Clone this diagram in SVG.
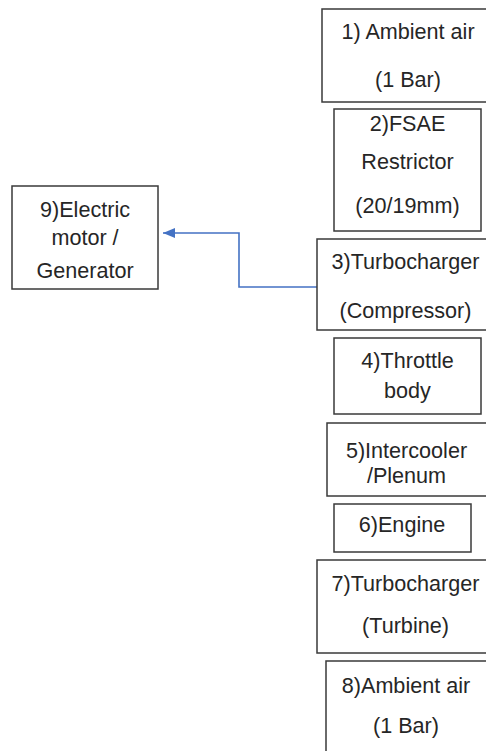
<svg xmlns="http://www.w3.org/2000/svg" width="486" height="751" viewBox="0 0 486 751">
<defs>
<style>
.box{fill:#fff;stroke:#3a3a3a;stroke-width:1.5}
.t{font-family:"Liberation Sans",Arial,sans-serif;font-size:21.6px;fill:#262626;text-anchor:middle}
.conn{fill:none;stroke:#4472C4;stroke-width:1.6}
</style>
<marker id="ah" viewBox="0 0 12 10" refX="12" refY="5" markerWidth="12" markerHeight="10" markerUnits="userSpaceOnUse" orient="auto">
<path d="M0,0 L12,5 L0,10 z" fill="#4472C4"/>
</marker>
</defs>
<rect width="486" height="751" fill="#fff"/>
<g id="connectors">
<path class="conn" d="M317,287 H239 V233 H163" marker-end="url(#ah)"/>
</g>
<g id="n1">
<rect class="box" x="322" y="9" width="180" height="93"/>
<text class="t" x="408" y="39">1) Ambient air</text>
<text class="t" x="408" y="87">(1 Bar)</text>
</g>
<g id="n2">
<rect class="box" x="334" y="109" width="147" height="122"/>
<text class="t" x="407.5" y="131">2)FSAE</text>
<text class="t" x="407.5" y="169">Restrictor</text>
<text class="t" x="407.5" y="213">(20/19mm)</text>
</g>
<g id="n3">
<rect class="box" x="317" y="239" width="190" height="91"/>
<text class="t" x="405.5" y="269">3)Turbocharger</text>
<text class="t" x="405.5" y="318">(Compressor)</text>
</g>
<g id="n4">
<rect class="box" x="334" y="338" width="147" height="76"/>
<text class="t" x="407.5" y="368">4)Throttle</text>
<text class="t" x="407.5" y="398">body</text>
</g>
<g id="n5">
<rect class="box" x="327" y="423" width="180" height="73"/>
<text class="t" x="406.5" y="458">5)Intercooler</text>
<text class="t" x="406.5" y="483">/Plenum</text>
</g>
<g id="n6">
<rect class="box" x="334" y="504" width="137" height="48"/>
<text class="t" x="402" y="532">6)Engine</text>
</g>
<g id="n7">
<rect class="box" x="317" y="560" width="190" height="93"/>
<text class="t" x="405.5" y="591">7)Turbocharger</text>
<text class="t" x="405.5" y="633">(Turbine)</text>
</g>
<g id="n8">
<rect class="box" x="326" y="661" width="180" height="100"/>
<text class="t" x="406" y="693">8)Ambient air</text>
<text class="t" x="406" y="733">(1 Bar)</text>
</g>
<g id="n9">
<rect class="box" x="12" y="186" width="146" height="103"/>
<text class="t" x="85" y="217">9)Electric</text>
<text class="t" x="85" y="245">motor /</text>
<text class="t" x="85" y="278">Generator</text>
</g>
</svg>
